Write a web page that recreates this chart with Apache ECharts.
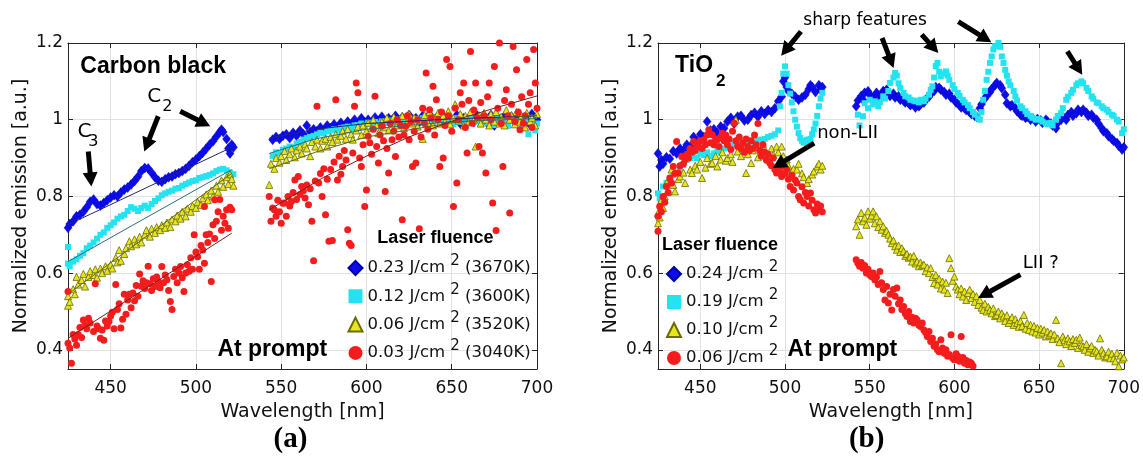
<!DOCTYPE html>
<html>
<head>
<meta charset="utf-8">
<script src="https://cdn.jsdelivr.net/npm/echarts@6/dist/echarts.min.js"></script>
<style>
html,body{margin:0;padding:0;background:#fff}
#main{width:1143px;height:457px}
</style>
</head>
<body>
<div id="main"></div>
<script>
// ---- Axis ranges ----
const X_RANGE = [425, 700];
const Y_RANGE = [0.35, 1.2];

// ---- Legend labels ----
const CB_FLUENCE = ['0.23', '0.12', '0.06', '0.03'];
const CB_TEMP = ['3670K', '3600K', '3520K', '3040K'];
const TI_FLUENCE = ['0.24', '0.19', '0.10', '0.06'];

// ---- (a) Carbon black: [wavelength nm, normalized emission] ----
const CB_023 = [
 [425,0.718],[426,0.728],[428,0.735],[430,0.748],[432,0.752],[434,0.760],[436,0.772],[438,0.786],[440,0.792],[442,0.780],
 [444,0.776],[446,0.783],[448,0.790],[450,0.797],[452,0.803],[454,0.800],[456,0.810],[458,0.818],[460,0.823],[462,0.831],
 [464,0.840],[466,0.851],[468,0.866],[470,0.874],[472,0.873],[474,0.862],[476,0.850],[478,0.841],[480,0.838],[482,0.845],
 [484,0.850],[486,0.852],[488,0.858],[490,0.861],[492,0.866],[494,0.872],[496,0.880],[498,0.889],[500,0.896],[502,0.905],
 [504,0.914],[506,0.924],[508,0.935],[510,0.944],[512,0.956],[514,0.968],[515,0.974],[516,0.968],[518,0.950],[519,0.925],
 [520,0.912],[521,0.935],[522,0.928],
 [545,0.948],[547,0.955],[549,0.950],[551,0.958],[553,0.962],[555,0.952],[557,0.966],[559,0.958],[561,0.972],[563,0.962],
 [565,0.985],[567,0.968],[569,0.975],[571,0.970],[573,0.980],[575,0.972],[577,0.985],[579,0.978],[581,0.988],[583,0.980],
 [585,0.992],[587,0.984],[589,0.995],[591,0.986],[593,1.000],[595,0.990],[597,1.004],[599,0.993],[601,1.000],[603,0.992],
 [605,1.006],[607,0.996],[609,1.008],[611,0.995],[613,1.004],[615,0.998],[617,1.010],[619,0.996],[621,1.006],[623,0.999],
 [625,1.012],[627,0.998],[629,1.004],[631,0.994],[633,1.010],[635,1.000],[637,1.014],[639,0.996],[641,1.005],[643,0.998],
 [645,1.010],[647,0.992],[649,1.004],[651,0.996],[653,1.012],[655,0.990],[657,1.004],[659,0.998],[661,1.008],[663,0.994],
 [665,1.010],[667,0.998],[669,1.004],[671,0.990],[673,1.012],[675,0.985],[677,1.006],[679,0.996],[681,1.010],[683,0.994],
 [685,1.008],[687,0.998],[689,1.012],[691,0.996],[693,1.006],[695,0.992],[697,1.015],[699,1.004],[700,1.000]
];
const CB_012 = [
 [425,0.625],[425,0.668],[426,0.618],[428,0.630],[430,0.636],[432,0.645],[434,0.652],[436,0.665],[438,0.672],[440,0.680],
 [442,0.690],[444,0.700],[446,0.706],[448,0.718],[450,0.725],[452,0.732],[454,0.742],[456,0.748],[458,0.752],[460,0.762],
 [462,0.772],[464,0.768],[466,0.762],[468,0.770],[470,0.776],[472,0.770],[474,0.780],[476,0.788],[478,0.795],[480,0.803],
 [482,0.808],[484,0.812],[486,0.815],[488,0.820],[490,0.822],[492,0.828],[494,0.832],[496,0.836],[498,0.840],[500,0.842],
 [502,0.848],[504,0.850],[506,0.853],[508,0.856],[510,0.860],[512,0.866],[514,0.870],[516,0.872],[518,0.868],[520,0.862],
 [522,0.858],
 [545,0.905],[547,0.915],[549,0.912],[551,0.922],[553,0.925],[555,0.930],[557,0.928],[559,0.938],[561,0.942],[563,0.948],
 [565,0.952],[567,0.955],[569,0.958],[571,0.962],[573,0.966],[575,0.964],[577,0.970],[579,0.972],[581,0.975],[583,0.972],
 [585,0.978],[587,0.980],[589,0.982],[591,0.978],[593,0.985],[595,0.986],[597,0.990],[599,0.985],[601,0.992],[603,0.988],
 [605,0.994],[607,0.990],[609,0.996],[611,0.992],[613,0.998],[615,0.994],[617,1.000],[619,0.995],[621,1.002],[623,0.996],
 [625,1.004],[627,0.998],[629,1.002],[631,0.996],[633,1.004],[635,0.998],[637,1.006],[639,0.994],[641,1.000],[643,0.990],
 [645,1.004],[647,0.996],[649,1.000],[651,0.988],[653,1.004],[655,0.994],[657,0.998],[659,0.990],[661,1.002],[663,0.994],
 [665,1.000],[667,0.988],[669,1.004],[671,0.992],[673,0.998],[675,0.986],[677,1.002],[679,0.990],[681,0.996],[683,0.984],
 [685,1.000],[687,0.990],[689,0.996],[691,0.982],[693,1.000],[695,0.962],[697,0.995],[699,0.972],[700,0.990]
];
const CB_006 = [
 [425,0.515],[425,0.540],[426,0.525],[428,0.558],[429,0.545],[430,0.590],[431,0.570],[433,0.582],[434,0.598],[435,0.565],
 [437,0.590],[438,0.605],[440,0.595],[441,0.610],[442,0.588],[444,0.612],[445,0.600],[447,0.618],[448,0.606],[450,0.622],
 [451,0.612],[453,0.640],[454,0.628],[455,0.660],[456,0.632],[458,0.650],[459,0.665],[461,0.683],[462,0.670],[464,0.688],
 [465,0.675],[467,0.695],[468,0.680],[470,0.700],[471,0.712],[473,0.695],[474,0.716],[476,0.705],[477,0.720],[479,0.712],
 [480,0.725],[482,0.718],[483,0.732],[485,0.720],[486,0.740],[488,0.735],[489,0.750],[491,0.742],[492,0.760],[494,0.748],
 [495,0.768],[497,0.760],[498,0.775],[500,0.770],[501,0.785],[503,0.778],[504,0.795],[506,0.805],[507,0.790],[509,0.815],
 [510,0.800],[512,0.828],[513,0.812],[515,0.842],[516,0.825],[518,0.850],[519,0.832],[520,0.858],[521,0.845],[522,0.828],
 [543,0.830],[544,0.885],[546,0.872],[547,0.900],[549,0.888],[550,0.905],[552,0.918],[553,0.895],[555,0.910],[556,0.925],
 [558,0.902],[559,0.920],[561,0.930],[562,0.912],[564,0.936],[565,0.925],[567,0.905],[568,0.942],[570,0.930],[571,0.948],
 [573,0.925],[574,0.945],[576,0.950],[577,0.930],[579,0.955],[580,0.942],[582,0.962],[583,0.948],[585,0.958],[586,0.970],
 [588,0.950],[589,0.975],[591,0.962],[592,0.948],[594,0.972],[595,0.982],[597,0.960],[598,0.985],[600,0.970],[601,0.992],
 [603,0.978],[604,1.000],[606,0.985],[607,0.965],[609,0.995],[610,0.980],[612,1.005],[613,0.972],[615,0.990],[616,1.008],
 [618,0.985],[619,0.998],[621,1.010],[622,0.978],[624,0.995],[625,1.015],[627,0.990],[628,1.005],[630,0.982],[631,1.000],
 [633,0.950],[634,1.012],[636,0.992],[637,1.020],[639,0.985],[640,1.005],[642,1.018],[643,0.990],[645,1.010],[646,0.995],
 [648,1.022],[649,0.988],[651,1.005],[652,1.040],[654,0.998],[655,1.015],[657,0.985],[658,1.010],[660,0.995],[661,1.020],
 [663,1.000],[664,0.930],[666,1.012],[667,0.990],[669,1.018],[670,1.000],[672,0.985],[673,1.015],[675,0.995],[676,1.020],
 [678,0.990],[679,1.008],[681,0.985],[682,1.025],[684,1.000],[685,1.012],[687,0.988],[688,1.020],[690,0.995],[691,1.010],
 [693,0.980],[694,1.018],[696,0.995],[697,1.005],[699,0.985],[700,1.015]
];
const CB_003 = [
 [425,0.552],[425,0.417],[426,0.405],[427,0.365],[428,0.440],[429,0.428],[430,0.412],[431,0.440],[432,0.458],[433,0.432],
 [434,0.478],[435,0.465],[436,0.455],[437,0.482],[438,0.470],[440,0.448],[441,0.572],[442,0.462],[443,0.455],[444,0.430],
 [445,0.452],[446,0.425],[447,0.475],[448,0.462],[449,0.474],[450,0.488],[451,0.498],[452,0.455],[453,0.570],[454,0.505],
 [455,0.520],[456,0.457],[457,0.480],[458,0.545],[459,0.493],[460,0.530],[461,0.545],[462,0.510],[463,0.548],[464,0.528],
 [465,0.568],[466,0.540],[467,0.598],[468,0.566],[469,0.580],[470,0.560],[471,0.575],[472,0.618],[473,0.572],[474,0.555],
 [475,0.585],[476,0.565],[477,0.590],[478,0.578],[479,0.562],[480,0.617],[481,0.575],[482,0.595],[483,0.583],[484,0.555],
 [485,0.526],[486,0.505],[487,0.591],[488,0.610],[489,0.575],[490,0.600],[491,0.617],[492,0.588],[493,0.552],[494,0.600],
 [495,0.622],[496,0.605],[497,0.640],[498,0.610],[499,0.700],[500,0.655],[501,0.643],[502,0.610],[503,0.672],[504,0.660],
 [505,0.626],[505,0.774],[506,0.700],[507,0.680],[508,0.702],[509,0.578],[510,0.726],[511,0.690],[511,0.791],[512,0.735],
 [513,0.760],[514,0.792],[515,0.712],[516,0.748],[517,0.730],[518,0.765],[519,0.717],[520,0.772],[521,0.765],
 [543,0.800],[544,0.735],[545,0.770],[546,0.765],[547,0.748],[548,0.790],[549,0.760],[550,0.730],[551,0.782],[552,0.783],
 [553,0.748],[554,0.800],[555,0.775],[556,0.787],[557,0.810],[558,0.843],[559,0.792],[560,0.852],[561,0.805],[562,0.826],
 [563,0.815],[564,0.796],[565,0.830],[566,0.778],[567,0.820],[568,0.735],[569,0.632],[570,0.840],[571,1.035],[572,0.835],
 [573,0.860],[574,0.800],[575,0.872],[576,0.752],[577,0.845],[578,0.683],[579,0.870],[580,0.685],[581,0.890],[582,1.052],
 [583,0.843],[584,0.905],[585,0.858],[586,0.878],[587,0.920],[588,0.895],[589,0.713],[590,0.678],[591,0.672],[592,0.913],
 [593,1.035],[594,1.096],[595,1.070],[596,0.900],[597,0.878],[598,0.935],[599,0.774],[600,0.817],[601,0.957],[602,0.940],
 [603,0.910],[604,0.975],[605,1.061],[606,0.930],[607,0.887],[608,0.960],[609,0.983],[610,0.945],[611,0.813],[612,0.925],
 [613,0.861],[614,0.990],[615,0.948],[616,0.970],[617,0.904],[618,1.000],[619,0.955],[620,0.985],[621,0.739],[622,0.960],
 [623,0.983],[624,1.010],[625,0.948],[626,0.995],[627,0.878],[628,0.970],[629,0.887],[630,1.000],[631,0.716],[632,0.955],
 [633,1.030],[634,0.990],[635,1.122],[636,0.975],[637,1.026],[638,1.005],[639,1.087],[640,0.960],[641,1.052],[642,1.000],
 [643,0.878],[644,1.020],[645,0.900],[646,0.985],[647,1.157],[648,1.010],[649,1.139],[650,0.970],[651,0.774],[652,1.030],
 [653,0.835],[654,1.000],[655,1.070],[656,1.040],[657,1.096],[658,0.980],[659,0.913],[660,1.050],[661,1.178],[662,0.991],
 [663,1.025],[664,1.096],[665,1.005],[666,0.930],[667,1.045],[668,0.913],[669,1.010],[670,0.861],[671,1.060],[672,1.096],
 [673,1.000],[674,0.783],[675,1.139],[676,0.711],[677,1.030],[678,1.200],[679,0.990],[680,0.878],[681,1.050],[682,1.078],
 [683,1.010],[684,0.757],[685,1.040],[686,1.191],[687,0.995],[688,1.130],[689,1.020],[690,0.974],[691,1.060],[692,0.991],
 [693,1.010],[694,1.157],[695,1.040],[696,1.070],[697,0.980],[698,1.183],[699,1.096],[700,1.030]
];
// Fitted curves (null marks the gap between the two spectrometer windows)
const CB_FIT_023 = [[425,0.726],[521,0.928],[533,null],[543,0.952],[570,0.975],[600,0.990],[650,1.002],[700,1.010]];
const CB_FIT_012 = [[425,0.630],[521,0.870],[533,null],[543,0.912],[570,0.950],[600,0.975],[650,0.995],[700,1.003]];
const CB_FIT_006 = [[425,0.545],[521,0.860],[533,null],[543,0.872],[570,0.915],[600,0.955],[650,0.992],[700,1.012]];
const CB_FIT_003 = [[425,0.430],[521,0.704],[533,null],[543,0.765],[575,0.850],[600,0.905],[625,0.955],[650,0.996],[675,1.030],[700,1.062]];

// ---- (b) TiO2: [wavelength nm, normalized emission] ----
const TI_024 = [
 [425,0.912],[426,0.878],[427,0.895],[428,0.885],[430,0.902],[432,0.898],[434,0.918],[436,0.912],[438,0.925],[440,0.920],
 [442,0.935],[444,0.930],[446,0.955],[448,0.945],[450,0.962],[452,0.955],[454,0.995],[456,0.972],[458,0.975],[460,0.965],
 [462,0.982],[464,0.978],[466,0.995],[468,1.005],[470,0.990],[472,1.008],[474,1.010],[476,0.998],[478,1.000],[480,1.012],
 [482,1.018],[484,1.008],[486,1.022],[488,1.015],[490,1.025],[492,1.020],[494,1.030],[496,1.048],[498,1.060],[499,1.100],
 [500,1.110],[501,1.085],[502,1.075],[504,1.068],[506,1.060],[508,1.052],[510,1.058],[512,1.065],[514,1.080],[515,1.090],
 [516,1.085],[518,1.072],[520,1.090],[521,1.078],[522,1.085],
 [542,1.035],[543,1.050],[545,1.062],[546,1.052],[547,1.070],[549,1.074],[550,1.065],[551,1.058],[553,1.061],[554,1.070],
 [555,1.062],[557,1.065],[558,1.075],[560,1.078],[561,1.070],[562,1.062],[564,1.068],[565,1.058],[567,1.061],[568,1.052],
 [570,1.050],[571,1.045],[573,1.043],[574,1.038],[576,1.040],[577,1.032],[579,1.035],[580,1.040],[582,1.045],[583,1.052],
 [585,1.060],[586,1.068],[588,1.075],[589,1.085],[591,1.083],[592,1.078],[594,1.072],[595,1.065],[597,1.068],[598,1.058],
 [600,1.052],[601,1.045],[603,1.038],[604,1.032],[606,1.030],[607,1.025],[609,1.020],[610,1.015],[612,1.010],[613,1.008],
 [615,1.030],[616,1.040],[618,1.055],[619,1.062],[621,1.072],[622,1.080],[624,1.090],[625,1.096],[627,1.090],[628,1.082],
 [630,1.065],[631,1.043],[633,1.035],[634,1.038],[636,1.030],[637,1.022],[639,1.013],[640,1.010],[642,1.005],[643,1.008],
 [645,1.000],[646,1.004],[648,0.995],[649,1.002],[651,0.998],[652,0.992],[654,1.000],[655,0.995],[657,0.990],[658,0.985],
 [660,0.978],[661,0.992],[663,1.000],[664,1.008],[666,1.000],[667,1.012],[669,1.020],[670,1.010],[672,1.017],[673,1.026],
 [675,1.020],[676,1.026],[678,1.018],[679,1.010],[681,1.013],[682,1.005],[684,1.000],[685,0.990],[687,0.978],[688,0.970],
 [690,0.965],[691,0.957],[693,0.950],[694,0.945],[696,0.939],[697,0.932],[699,0.922],[700,0.928]
];
const TI_019 = [
 [425,0.808],[426,0.795],[428,0.826],[430,0.835],[432,0.848],[434,0.856],[436,0.862],[438,0.875],[440,0.882],[442,0.895],
 [444,0.900],[446,0.905],[448,0.900],[450,0.912],[452,0.908],[454,0.915],[456,0.905],[458,0.912],[460,0.918],[462,0.915],
 [464,0.925],[466,0.930],[468,0.932],[470,0.938],[472,0.935],[474,0.940],[476,0.938],[478,0.942],[480,0.945],[482,0.940],
 [484,0.946],[486,0.948],[488,0.950],[490,0.955],[492,0.958],[494,0.962],[496,0.972],[497,1.035],[498,1.070],[499,1.120],
 [500,1.139],[501,1.120],[502,1.090],[503,1.068],[504,1.045],[505,1.022],[506,1.000],[507,0.982],[508,0.965],[509,0.952],
 [510,0.945],[511,0.940],[512,0.945],[513,0.948],[514,0.942],[515,0.950],[516,0.962],[517,0.975],[518,0.990],[519,1.010],
 [520,1.035],[521,1.055],[522,1.070],
 [543,1.013],[544,0.985],[546,1.009],[547,1.043],[549,1.030],[550,1.052],[552,1.040],[553,1.048],[555,1.035],[556,1.045],
 [558,1.061],[559,1.055],[561,1.075],[562,1.096],[564,1.110],[565,1.122],[566,1.115],[567,1.095],[568,1.083],[570,1.070],
 [571,1.061],[573,1.058],[574,1.052],[576,1.050],[577,1.048],[579,1.045],[580,1.052],[582,1.048],[583,1.055],[585,1.065],
 [586,1.078],[587,1.087],[588,1.110],[589,1.140],[590,1.148],[591,1.125],[592,1.113],[594,1.120],[595,1.126],[596,1.115],
 [597,1.104],[599,1.090],[600,1.080],[602,1.070],[603,1.062],[605,1.052],[606,1.045],[608,1.038],[609,1.030],[611,1.020],
 [612,1.013],[614,1.004],[615,1.000],[616,1.020],[617,1.052],[618,1.075],[619,1.104],[620,1.125],[621,1.148],[622,1.165],
 [623,1.183],[624,1.192],[626,1.200],[627,1.190],[628,1.165],[629,1.148],[630,1.130],[631,1.115],[632,1.100],[633,1.090],
 [635,1.075],[636,1.061],[637,1.050],[639,1.035],[640,1.030],[642,1.022],[643,1.015],[645,1.010],[646,1.005],[648,1.000],
 [649,1.002],[651,1.000],[652,0.995],[654,0.991],[655,0.988],[657,0.992],[658,0.985],[660,1.000],[661,1.010],[663,1.017],
 [664,1.030],[666,1.052],[667,1.060],[669,1.070],[670,1.078],[672,1.090],[673,1.095],[675,1.100],[676,1.095],[678,1.083],
 [679,1.075],[681,1.061],[682,1.055],[684,1.045],[685,1.043],[687,1.035],[688,1.030],[690,1.026],[691,1.020],[693,1.013],
 [694,1.010],[696,1.000],[697,0.995],[699,0.965],[700,0.975]
];
const TI_010 = [
 [425,0.757],[425,0.730],[426,0.745],[427,0.791],[428,0.770],[429,0.800],[430,0.835],[431,0.812],[433,0.870],[434,0.830],
 [435,0.813],[437,0.845],[438,0.852],[440,0.862],[441,0.835],[442,0.904],[444,0.870],[445,0.861],[447,0.880],[448,0.870],
 [450,0.890],[451,0.848],[453,0.875],[454,0.900],[456,0.885],[457,0.887],[459,0.905],[460,0.878],[462,0.896],[463,0.915],
 [465,0.893],[466,0.900],[468,0.910],[469,0.890],[471,1.000],[472,0.917],[474,0.905],[475,0.925],[477,0.861],[478,0.910],
 [480,0.887],[481,0.920],[483,0.930],[484,0.902],[486,0.922],[487,0.935],[489,0.915],[490,0.896],[492,0.925],[493,0.908],
 [495,0.930],[496,0.915],[498,0.930],[499,0.905],[501,0.896],[502,0.880],[504,0.865],[505,0.872],[507,0.870],[508,0.885],
 [510,0.860],[511,0.850],[513,0.835],[514,0.845],[516,0.857],[517,0.865],[519,0.878],[520,0.885],[521,0.870],[522,0.880],
 [542,0.722],[543,0.740],[544,0.700],[545,0.757],[546,0.735],[547,0.745],[548,0.726],[549,0.761],[550,0.742],[551,0.750],
 [552,0.761],[553,0.730],[554,0.748],[555,0.720],[556,0.735],[557,0.713],[558,0.722],[559,0.705],[560,0.710],[561,0.700],
 [562,0.690],[563,0.678],[564,0.685],[565,0.670],[566,0.661],[567,0.672],[568,0.655],[569,0.665],[570,0.657],[571,0.645],
 [572,0.650],[573,0.640],[574,0.643],[575,0.630],[576,0.645],[577,0.625],[578,0.630],[579,0.618],[580,0.628],[581,0.620],
 [582,0.622],[583,0.605],[584,0.615],[585,0.600],[586,0.613],[587,0.590],[588,0.574],[589,0.595],[590,0.570],[591,0.585],
 [592,0.560],[593,0.578],[594,0.557],[595,0.575],[596,0.548],[597,0.639],[598,0.613],[599,0.580],[600,0.591],[601,0.565],
 [602,0.557],[603,0.545],[604,0.560],[605,0.539],[606,0.552],[607,0.530],[608,0.548],[609,0.557],[610,0.535],[611,0.545],
 [612,0.525],[613,0.540],[614,0.517],[615,0.530],[616,0.510],[617,0.504],[618,0.520],[619,0.500],[620,0.512],[621,0.504],
 [622,0.495],[623,0.508],[624,0.488],[625,0.491],[626,0.500],[627,0.482],[628,0.495],[629,0.487],[630,0.475],[631,0.490],
 [632,0.470],[633,0.478],[634,0.485],[635,0.465],[636,0.480],[637,0.470],[638,0.460],[639,0.475],[640,0.462],[641,0.491],
 [642,0.455],[643,0.470],[644,0.452],[645,0.465],[646,0.448],[647,0.462],[648,0.445],[649,0.457],[650,0.440],[651,0.455],
 [652,0.445],[653,0.452],[654,0.435],[655,0.448],[656,0.438],[657,0.443],[658,0.428],[659,0.440],[660,0.478],[661,0.430],
 [662,0.420],[663,0.365],[664,0.435],[665,0.425],[666,0.415],[667,0.430],[668,0.422],[669,0.410],[670,0.428],[671,0.418],
 [672,0.426],[673,0.405],[674,0.432],[675,0.412],[676,0.409],[677,0.400],[678,0.415],[679,0.395],[680,0.404],[681,0.410],
 [682,0.392],[683,0.400],[684,0.396],[685,0.385],[686,0.430],[687,0.400],[688,0.391],[689,0.380],[690,0.383],[691,0.395],
 [692,0.378],[693,0.390],[694,0.378],[695,0.370],[696,0.392],[697,0.357],[698,0.385],[699,0.375],[700,0.380]
];
const TI_006 = [
 [425,0.709],[425,0.748],[426,0.774],[427,0.760],[428,0.800],[429,0.785],[430,0.826],[431,0.810],[432,0.848],[433,0.835],
 [434,0.878],[435,0.860],[436,0.943],[437,0.861],[438,0.880],[439,0.904],[440,0.885],[441,0.896],[442,0.910],[443,0.900],
 [444,0.925],[445,0.915],[446,0.943],[447,0.920],[448,0.935],[449,0.930],[450,0.945],[451,0.925],[452,0.948],[453,0.935],
 [454,0.960],[455,0.974],[456,0.940],[457,0.961],[458,0.935],[459,0.950],[460,0.948],[461,0.930],[462,0.955],[463,0.965],
 [464,0.945],[465,0.960],[466,0.935],[467,0.950],[468,0.922],[469,0.970],[470,0.991],[471,0.945],[472,0.930],[473,0.955],
 [474,0.925],[475,0.940],[476,0.915],[477,0.950],[478,0.930],[479,0.920],[480,0.945],[481,0.925],[482,0.960],[483,0.935],
 [484,0.990],[485,0.920],[486,0.905],[487,0.935],[488,0.915],[489,0.895],[490,0.910],[491,0.887],[492,0.880],[493,0.900],
 [494,0.870],[495,0.861],[496,0.875],[497,0.865],[498,0.852],[499,0.880],[500,0.860],[501,0.870],[502,0.845],[503,0.826],
 [504,0.855],[505,0.817],[506,0.843],[507,0.835],[508,0.800],[509,0.791],[510,0.825],[511,0.783],[512,0.810],[513,0.800],
 [514,0.775],[515,0.809],[516,0.790],[517,0.765],[518,0.757],[519,0.780],[520,0.765],[521,0.775],[522,0.760],
 [542,0.635],[543,0.626],[544,0.618],[545,0.628],[546,0.613],[547,0.620],[548,0.600],[549,0.610],[550,0.596],[551,0.591],
 [552,0.600],[553,0.583],[554,0.590],[555,0.570],[556,0.604],[557,0.575],[558,0.557],[559,0.530],[560,0.565],[561,0.522],
 [562,0.545],[563,0.504],[564,0.557],[565,0.540],[566,0.561],[567,0.520],[568,0.530],[569,0.505],[570,0.513],[571,0.495],
 [572,0.487],[573,0.500],[574,0.474],[575,0.485],[576,0.470],[577,0.482],[578,0.478],[579,0.465],[580,0.461],[581,0.470],
 [582,0.452],[583,0.445],[584,0.435],[585,0.448],[586,0.422],[587,0.430],[588,0.409],[589,0.415],[590,0.400],[591,0.395],
 [592,0.426],[593,0.405],[594,0.391],[595,0.400],[596,0.383],[597,0.388],[598,0.439],[599,0.378],[600,0.374],[601,0.390],
 [602,0.383],[603,0.370],[604,0.435],[605,0.380],[606,0.365],[607,0.372],[608,0.361],[609,0.368],[610,0.365],[611,0.358]
];

// ---- Marker and line styles ----
const FONT = '"DejaVu Sans", sans-serif';
const BOLD = 'bold 23px "Liberation Sans", Arial, sans-serif';
const AXIS_COLOR = '#262626';
const TEXT_COLOR = '#111';
const MARKERS = [
  { symbol: 'diamond', size: [8, 10], color: '#0c0cee', border: '#0000aa', bw: 0.4 },
  { symbol: 'rect', size: 6, color: '#24e3f0', border: '#24e3f0', bw: 0 },
  { symbol: 'triangle', size: 7, color: '#e6e61c', border: '#6b6b00', bw: 0.8 },
  { symbol: 'circle', size: 7, color: '#f41c1c', border: '#f41c1c', bw: 0 }
];
const FIT_COLORS = ['#25256a', '#2a6f7e', '#666618', '#7a1d1d'];

const chart = echarts.init(document.getElementById('main'), null, { renderer: 'canvas' });

function bottomX(g) {
  return {
    type: 'value', gridIndex: g, min: X_RANGE[0], max: X_RANGE[1], position: 'bottom',
    name: 'Wavelength [nm]', nameLocation: 'middle', nameGap: 34,
    nameTextStyle: { fontFamily: FONT, fontSize: 19, color: TEXT_COLOR },
    axisLine: { show: true, onZero: false, lineStyle: { color: AXIS_COLOR, width: 1 } },
    axisTick: { show: true, inside: true, length: 5, lineStyle: { color: AXIS_COLOR } },
    axisLabel: { showMinLabel: false, margin: 11, fontFamily: FONT, fontSize: 17, color: TEXT_COLOR },
    splitLine: { show: true, lineStyle: { color: '#e1e1e1', width: 1 } }
  };
}
function topX(g) {
  return {
    type: 'value', gridIndex: g, min: X_RANGE[0], max: X_RANGE[1], position: 'top',
    axisLine: { show: true, onZero: false, lineStyle: { color: AXIS_COLOR, width: 1 } },
    axisTick: { show: true, inside: true, length: 5, lineStyle: { color: AXIS_COLOR } },
    axisLabel: { show: false }, splitLine: { show: false }
  };
}
function leftY(g) {
  return {
    type: 'value', gridIndex: g, min: Y_RANGE[0], max: Y_RANGE[1], position: 'left',
    name: 'Normalized emission [a.u.]', nameLocation: 'middle', nameGap: 37,
    nameTextStyle: { fontFamily: FONT, fontSize: 19, color: TEXT_COLOR },
    axisLine: { show: true, onZero: false, lineStyle: { color: AXIS_COLOR, width: 1 } },
    axisTick: { show: true, inside: true, length: 5, lineStyle: { color: AXIS_COLOR } },
    axisLabel: { showMinLabel: false, margin: 5, fontFamily: FONT, fontSize: 17, color: TEXT_COLOR },
    splitLine: { show: true, lineStyle: { color: '#e1e1e1', width: 1 } }
  };
}
function rightY(g) {
  return {
    type: 'value', gridIndex: g, min: Y_RANGE[0], max: Y_RANGE[1], position: 'right',
    axisLine: { show: true, onZero: false, lineStyle: { color: AXIS_COLOR, width: 1 } },
    axisTick: { show: true, inside: true, length: 5, lineStyle: { color: AXIS_COLOR } },
    axisLabel: { show: false }, splitLine: { show: false }
  };
}

function scatter(name, data, g, k) {
  const m = MARKERS[k];
  return {
    type: 'scatter', name: name, data: data, xAxisIndex: g * 2, yAxisIndex: g * 2,
    symbol: m.symbol, symbolSize: m.size, z: 2 + k,
    itemStyle: { color: m.color, borderColor: m.border, borderWidth: m.bw, opacity: 1 },
    emphasis: { disabled: true }, silent: true
  };
}
function fit(data, k) {
  return {
    type: 'line', data: data, xAxisIndex: 0, yAxisIndex: 0, symbol: 'none', showSymbol: false,
    connectNulls: false, z: 10, silent: true,
    lineStyle: { color: FIT_COLORS[k], width: 1 }
  };
}

const CB_NAMES = CB_FLUENCE.map((f, i) => f + ' J/cm\u00b2 (' + CB_TEMP[i] + ')');
const TI_NAMES = TI_FLUENCE.map(f => f + ' J/cm\u00b2');
const CB_DATA = [CB_023, CB_012, CB_006, CB_003];
const TI_DATA = [TI_024, TI_019, TI_010, TI_006];

const legendRich = {
  t: { fontFamily: FONT, fontSize: 16.5, color: TEXT_COLOR, lineHeight: 28 },
  s: { fontFamily: FONT, fontSize: 15, color: TEXT_COLOR, verticalAlign: 'top' }
};

const series = [];
CB_DATA.forEach((d, k) => series.push(scatter(CB_NAMES[k], d, 0, k)));
TI_DATA.forEach((d, k) => series.push(scatter(TI_NAMES[k], d, 1, k)));
[CB_FIT_023, CB_FIT_012, CB_FIT_006, CB_FIT_003].forEach((d, k) => series.push(fit(d, k)));

chart.setOption({
  animation: false,
  backgroundColor: '#fff',
  grid: [
    { left: 68, top: 43, width: 469, height: 326, containLabel: false },
    { left: 658, top: 43, width: 469, height: 326, containLabel: false }
  ],
  xAxis: [bottomX(0), topX(0), bottomX(1), topX(1)],
  yAxis: [leftY(0), rightY(0), leftY(1), rightY(1)],
  legend: [
    {
      data: CB_NAMES, orient: 'vertical', left: 347.5, top: 254,
      itemWidth: 14, itemHeight: 14, itemGap: 5.8, selectedMode: false, padding: 0,
      formatter: name => {
        const i = CB_NAMES.indexOf(name);
        return '{t|' + CB_FLUENCE[i] + ' J/cm }{s|2}{t| (' + CB_TEMP[i] + ')}';
      },
      textStyle: { rich: legendRich }
    },
    {
      data: TI_NAMES, orient: 'vertical', left: 666, top: 260,
      itemWidth: 14, itemHeight: 14, itemGap: 5.5, selectedMode: false, padding: 0,
      formatter: name => {
        const i = TI_NAMES.indexOf(name);
        return '{t|' + TI_FLUENCE[i] + ' J/cm }{s|2}';
      },
      textStyle: { rich: legendRich }
    }
  ],
  series: series
});

// ---- Annotations (placed in data coordinates of each panel) ----
const CB_ARROWS = [
  [[436.9, 0.917], [438.7, 0.826]],
  [[477.9, 1.009], [469.7, 0.917]],
  [[490.8, 1.022], [508.4, 0.983]]
];
const TI_ARROWS = [
  [[509.4, 1.230], [497.7, 1.167]],
  [[557.3, 1.213], [564.1, 1.135]],
  [[580.7, 1.222], [590.5, 1.174]],
  [[602.3, 1.256], [621.8, 1.202]],
  [[666.7, 1.178], [675.5, 1.117]],
  [[517.2, 0.939], [492.8, 0.874]],
  [[639.0, 0.596], [614.0, 0.535]]
];
const CB_TEXTS = [
  { text: 'Carbon black', at: [432.2, 1.139], font: BOLD },
  { text: 'C', at: [430.5, 0.969], font: '20px ' + FONT },
  { text: '3', at: [436.9, 0.941], font: '16px ' + FONT },
  { text: 'C', at: [471.5, 1.060], font: '20px ' + FONT },
  { text: '2', at: [480.3, 1.033], font: '16px ' + FONT },
  { text: 'At prompt', at: [512.6, 0.400], font: BOLD },
  { text: 'Laser fluence', at: [606.4, 0.692], font: 'bold 18px "Liberation Sans", Arial, sans-serif' },
  { text: '(a)', at: [555.4, 0.166], font: 'bold 29px "Liberation Serif", "Times New Roman", serif', align: 'center' }
];
const TI_TEXTS = [
  { text: 'TiO', at: [435.1, 1.141], font: BOLD },
  { text: '2', at: [459.2, 1.099], font: 'bold 17px "Liberation Sans", Arial, sans-serif' },
  { text: 'sharp features', at: [510.8, 1.259], font: '17px ' + FONT },
  { text: 'non-LII', at: [519.0, 0.965], font: '18px ' + FONT },
  { text: 'LII ?', at: [640.4, 0.626], font: '18px ' + FONT },
  { text: 'At prompt', at: [501.4, 0.400], font: BOLD },
  { text: 'Laser fluence', at: [427.3, 0.674], font: 'bold 18px "Liberation Sans", Arial, sans-serif' },
  { text: '(b)', at: [548.2, 0.166], font: 'bold 29px "Liberation Serif", "Times New Roman", serif', align: 'center' }
];

function arrowShape(tail, tip) {
  const dx = tip[0] - tail[0], dy = tip[1] - tail[1];
  const len = Math.hypot(dx, dy);
  const ux = dx / len, uy = dy / len;
  const nx = -uy, ny = ux;
  const head = 14, hw = 7.5, sw = 2.5;
  const bx = tip[0] - ux * head, by = tip[1] - uy * head;
  return [
    [tail[0] + nx * sw, tail[1] + ny * sw],
    [bx + nx * sw, by + ny * sw],
    [bx + nx * hw, by + ny * hw],
    [tip[0], tip[1]],
    [bx - nx * hw, by - ny * hw],
    [bx - nx * sw, by - ny * sw],
    [tail[0] - nx * sw, tail[1] - ny * sw]
  ];
}

const graphics = [];
function addArrows(list, g) {
  list.forEach(a => {
    const t = chart.convertToPixel({ gridIndex: g }, a[0]);
    const p = chart.convertToPixel({ gridIndex: g }, a[1]);
    graphics.push({ type: 'polygon', z: 100, silent: true, shape: { points: arrowShape(t, p) }, style: { fill: '#000' } });
  });
}
function addTexts(list, g) {
  list.forEach(o => {
    const p = chart.convertToPixel({ gridIndex: g }, o.at);
    graphics.push({
      type: 'text', x: p[0], y: p[1], z: 100, silent: true,
      style: { text: o.text, font: o.font, fill: '#000', align: o.align || 'left', verticalAlign: 'middle' }
    });
  });
}
addArrows(CB_ARROWS, 0);
addArrows(TI_ARROWS, 1);
addTexts(CB_TEXTS, 0);
addTexts(TI_TEXTS, 1);

chart.setOption({ graphic: graphics });
</script>
</body>
</html>
